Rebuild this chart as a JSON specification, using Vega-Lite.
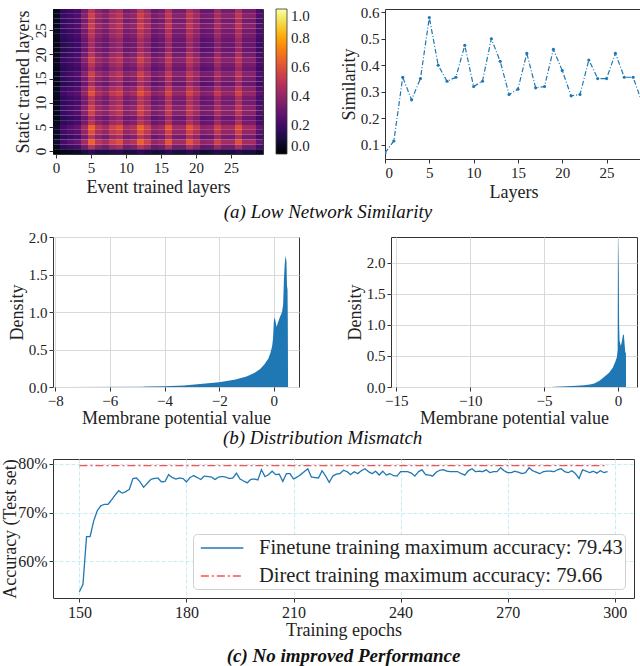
{
"$schema":"https://vega.github.io/schema/vega-lite/v6.json",
"background":"white",
"padding":{"left":1,"top":4,"right":3,"bottom":0},
"config":{
"font":"Liberation Serif",
"view":{"stroke":"#333","strokeWidth":1},
"axis":{"labelFont":"Liberation Serif","titleFont":"Liberation Serif","labelFontSize":15,"titleFontSize":18,"titleFontWeight":"normal","labelColor":"#222","titleColor":"#222","domain":false,"tickColor":"#333","tickSize":4,"grid":false,"labelPadding":2,"titlePadding":3},
"axisY":{"titlePadding":2},
"legend":{"labelFont":"Liberation Serif","labelColor":"#222"},
"title":{"font":"Liberation Serif","fontSize":19,"fontStyle":"italic","fontWeight":"normal","orient":"bottom","anchor":"middle","color":"#111","offset":1}
},
"columns":1,
"align":"none",
"spacing":7,
"resolve":{"scale":{"color":"independent","strokeDash":"independent"},"legend":{"color":"independent","strokeDash":"independent"}},
"concat":[
{"title":{"text":"(a) Low Network Similarity"},"columns":2,"align":"none","spacing":28,
"resolve":{"scale":{"color":"independent"},"legend":{"color":"independent"}},
"concat":[
{"width":210,"height":145,
"data":{"values":[
{"e":0,"s":0,"v":0.02},{"e":1,"s":0,"v":0.05},{"e":2,"s":0,"v":0.06},{"e":3,"s":0,"v":0.07},{"e":4,"s":0,"v":0.11},{"e":5,"s":0,"v":0.16},{"e":6,"s":0,"v":0.12},{"e":7,"s":0,"v":0.11},{"e":8,"s":0,"v":0.13},{"e":9,"s":0,"v":0.14},{"e":10,"s":0,"v":0.11},{"e":11,"s":0,"v":0.11},{"e":12,"s":0,"v":0.16},{"e":13,"s":0,"v":0.13},{"e":14,"s":0,"v":0.1},{"e":15,"s":0,"v":0.11},{"e":16,"s":0,"v":0.15},{"e":17,"s":0,"v":0.11},{"e":18,"s":0,"v":0.11},{"e":19,"s":0,"v":0.15},{"e":20,"s":0,"v":0.12},{"e":21,"s":0,"v":0.09},{"e":22,"s":0,"v":0.1},{"e":23,"s":0,"v":0.13},{"e":24,"s":0,"v":0.11},{"e":25,"s":0,"v":0.11},{"e":26,"s":0,"v":0.14},{"e":27,"s":0,"v":0.11},{"e":28,"s":0,"v":0.11},{"e":29,"s":0,"v":0.07},
{"e":0,"s":1,"v":0.06},{"e":1,"s":1,"v":0.16},{"e":2,"s":1,"v":0.19},{"e":3,"s":1,"v":0.22},{"e":4,"s":1,"v":0.33},{"e":5,"s":1,"v":0.49},{"e":6,"s":1,"v":0.38},{"e":7,"s":1,"v":0.33},{"e":8,"s":1,"v":0.42},{"e":9,"s":1,"v":0.46},{"e":10,"s":1,"v":0.33},{"e":11,"s":1,"v":0.36},{"e":12,"s":1,"v":0.49},{"e":13,"s":1,"v":0.42},{"e":14,"s":1,"v":0.3},{"e":15,"s":1,"v":0.33},{"e":16,"s":1,"v":0.47},{"e":17,"s":1,"v":0.33},{"e":18,"s":1,"v":0.33},{"e":19,"s":1,"v":0.47},{"e":20,"s":1,"v":0.39},{"e":21,"s":1,"v":0.29},{"e":22,"s":1,"v":0.3},{"e":23,"s":1,"v":0.42},{"e":24,"s":1,"v":0.33},{"e":25,"s":1,"v":0.33},{"e":26,"s":1,"v":0.46},{"e":27,"s":1,"v":0.33},{"e":28,"s":1,"v":0.33},{"e":29,"s":1,"v":0.22},
{"e":0,"s":2,"v":0.08},{"e":1,"s":2,"v":0.21},{"e":2,"s":2,"v":0.25},{"e":3,"s":2,"v":0.29},{"e":4,"s":2,"v":0.44},{"e":5,"s":2,"v":0.65},{"e":6,"s":2,"v":0.5},{"e":7,"s":2,"v":0.44},{"e":8,"s":2,"v":0.55},{"e":9,"s":2,"v":0.6},{"e":10,"s":2,"v":0.44},{"e":11,"s":2,"v":0.48},{"e":12,"s":2,"v":0.65},{"e":13,"s":2,"v":0.55},{"e":14,"s":2,"v":0.4},{"e":15,"s":2,"v":0.44},{"e":16,"s":2,"v":0.61},{"e":17,"s":2,"v":0.44},{"e":18,"s":2,"v":0.44},{"e":19,"s":2,"v":0.61},{"e":20,"s":2,"v":0.51},{"e":21,"s":2,"v":0.39},{"e":22,"s":2,"v":0.4},{"e":23,"s":2,"v":0.55},{"e":24,"s":2,"v":0.44},{"e":25,"s":2,"v":0.44},{"e":26,"s":2,"v":0.6},{"e":27,"s":2,"v":0.44},{"e":28,"s":2,"v":0.44},{"e":29,"s":2,"v":0.29},
{"e":0,"s":3,"v":0.06},{"e":1,"s":3,"v":0.16},{"e":2,"s":3,"v":0.19},{"e":3,"s":3,"v":0.22},{"e":4,"s":3,"v":0.33},{"e":5,"s":3,"v":0.49},{"e":6,"s":3,"v":0.38},{"e":7,"s":3,"v":0.33},{"e":8,"s":3,"v":0.42},{"e":9,"s":3,"v":0.46},{"e":10,"s":3,"v":0.33},{"e":11,"s":3,"v":0.36},{"e":12,"s":3,"v":0.49},{"e":13,"s":3,"v":0.42},{"e":14,"s":3,"v":0.3},{"e":15,"s":3,"v":0.33},{"e":16,"s":3,"v":0.47},{"e":17,"s":3,"v":0.33},{"e":18,"s":3,"v":0.33},{"e":19,"s":3,"v":0.47},{"e":20,"s":3,"v":0.39},{"e":21,"s":3,"v":0.29},{"e":22,"s":3,"v":0.3},{"e":23,"s":3,"v":0.42},{"e":24,"s":3,"v":0.33},{"e":25,"s":3,"v":0.33},{"e":26,"s":3,"v":0.46},{"e":27,"s":3,"v":0.33},{"e":28,"s":3,"v":0.33},{"e":29,"s":3,"v":0.22},
{"e":0,"s":4,"v":0.07},{"e":1,"s":4,"v":0.2},{"e":2,"s":4,"v":0.23},{"e":3,"s":4,"v":0.26},{"e":4,"s":4,"v":0.4},{"e":5,"s":4,"v":0.6},{"e":6,"s":4,"v":0.46},{"e":7,"s":4,"v":0.4},{"e":8,"s":4,"v":0.51},{"e":9,"s":4,"v":0.55},{"e":10,"s":4,"v":0.4},{"e":11,"s":4,"v":0.44},{"e":12,"s":4,"v":0.6},{"e":13,"s":4,"v":0.51},{"e":14,"s":4,"v":0.37},{"e":15,"s":4,"v":0.4},{"e":16,"s":4,"v":0.56},{"e":17,"s":4,"v":0.4},{"e":18,"s":4,"v":0.4},{"e":19,"s":4,"v":0.56},{"e":20,"s":4,"v":0.47},{"e":21,"s":4,"v":0.36},{"e":22,"s":4,"v":0.37},{"e":23,"s":4,"v":0.51},{"e":24,"s":4,"v":0.4},{"e":25,"s":4,"v":0.4},{"e":26,"s":4,"v":0.55},{"e":27,"s":4,"v":0.4},{"e":28,"s":4,"v":0.4},{"e":29,"s":4,"v":0.26},
{"e":0,"s":5,"v":0.08},{"e":1,"s":5,"v":0.21},{"e":2,"s":5,"v":0.25},{"e":3,"s":5,"v":0.29},{"e":4,"s":5,"v":0.44},{"e":5,"s":5,"v":0.65},{"e":6,"s":5,"v":0.5},{"e":7,"s":5,"v":0.44},{"e":8,"s":5,"v":0.55},{"e":9,"s":5,"v":0.6},{"e":10,"s":5,"v":0.44},{"e":11,"s":5,"v":0.48},{"e":12,"s":5,"v":0.65},{"e":13,"s":5,"v":0.55},{"e":14,"s":5,"v":0.4},{"e":15,"s":5,"v":0.44},{"e":16,"s":5,"v":0.61},{"e":17,"s":5,"v":0.44},{"e":18,"s":5,"v":0.44},{"e":19,"s":5,"v":0.61},{"e":20,"s":5,"v":0.51},{"e":21,"s":5,"v":0.39},{"e":22,"s":5,"v":0.4},{"e":23,"s":5,"v":0.55},{"e":24,"s":5,"v":0.44},{"e":25,"s":5,"v":0.44},{"e":26,"s":5,"v":0.6},{"e":27,"s":5,"v":0.44},{"e":28,"s":5,"v":0.44},{"e":29,"s":5,"v":0.29},
{"e":0,"s":6,"v":0.06},{"e":1,"s":6,"v":0.16},{"e":2,"s":6,"v":0.19},{"e":3,"s":6,"v":0.22},{"e":4,"s":6,"v":0.33},{"e":5,"s":6,"v":0.49},{"e":6,"s":6,"v":0.38},{"e":7,"s":6,"v":0.33},{"e":8,"s":6,"v":0.42},{"e":9,"s":6,"v":0.46},{"e":10,"s":6,"v":0.33},{"e":11,"s":6,"v":0.36},{"e":12,"s":6,"v":0.49},{"e":13,"s":6,"v":0.42},{"e":14,"s":6,"v":0.3},{"e":15,"s":6,"v":0.33},{"e":16,"s":6,"v":0.47},{"e":17,"s":6,"v":0.33},{"e":18,"s":6,"v":0.33},{"e":19,"s":6,"v":0.47},{"e":20,"s":6,"v":0.39},{"e":21,"s":6,"v":0.29},{"e":22,"s":6,"v":0.3},{"e":23,"s":6,"v":0.42},{"e":24,"s":6,"v":0.33},{"e":25,"s":6,"v":0.33},{"e":26,"s":6,"v":0.46},{"e":27,"s":6,"v":0.33},{"e":28,"s":6,"v":0.33},{"e":29,"s":6,"v":0.22},
{"e":0,"s":7,"v":0.05},{"e":1,"s":7,"v":0.14},{"e":2,"s":7,"v":0.17},{"e":3,"s":7,"v":0.2},{"e":4,"s":7,"v":0.3},{"e":5,"s":7,"v":0.44},{"e":6,"s":7,"v":0.34},{"e":7,"s":7,"v":0.3},{"e":8,"s":7,"v":0.37},{"e":9,"s":7,"v":0.41},{"e":10,"s":7,"v":0.3},{"e":11,"s":7,"v":0.32},{"e":12,"s":7,"v":0.44},{"e":13,"s":7,"v":0.37},{"e":14,"s":7,"v":0.27},{"e":15,"s":7,"v":0.3},{"e":16,"s":7,"v":0.42},{"e":17,"s":7,"v":0.3},{"e":18,"s":7,"v":0.3},{"e":19,"s":7,"v":0.42},{"e":20,"s":7,"v":0.35},{"e":21,"s":7,"v":0.26},{"e":22,"s":7,"v":0.27},{"e":23,"s":7,"v":0.37},{"e":24,"s":7,"v":0.3},{"e":25,"s":7,"v":0.3},{"e":26,"s":7,"v":0.41},{"e":27,"s":7,"v":0.3},{"e":28,"s":7,"v":0.3},{"e":29,"s":7,"v":0.2},
{"e":0,"s":8,"v":0.06},{"e":1,"s":8,"v":0.18},{"e":2,"s":8,"v":0.21},{"e":3,"s":8,"v":0.24},{"e":4,"s":8,"v":0.37},{"e":5,"s":8,"v":0.55},{"e":6,"s":8,"v":0.42},{"e":7,"s":8,"v":0.37},{"e":8,"s":8,"v":0.46},{"e":9,"s":8,"v":0.5},{"e":10,"s":8,"v":0.37},{"e":11,"s":8,"v":0.4},{"e":12,"s":8,"v":0.55},{"e":13,"s":8,"v":0.46},{"e":14,"s":8,"v":0.34},{"e":15,"s":8,"v":0.37},{"e":16,"s":8,"v":0.51},{"e":17,"s":8,"v":0.37},{"e":18,"s":8,"v":0.37},{"e":19,"s":8,"v":0.51},{"e":20,"s":8,"v":0.43},{"e":21,"s":8,"v":0.33},{"e":22,"s":8,"v":0.34},{"e":23,"s":8,"v":0.46},{"e":24,"s":8,"v":0.37},{"e":25,"s":8,"v":0.37},{"e":26,"s":8,"v":0.5},{"e":27,"s":8,"v":0.37},{"e":28,"s":8,"v":0.37},{"e":29,"s":8,"v":0.24},
{"e":0,"s":9,"v":0.06},{"e":1,"s":9,"v":0.18},{"e":2,"s":9,"v":0.21},{"e":3,"s":9,"v":0.24},{"e":4,"s":9,"v":0.37},{"e":5,"s":9,"v":0.55},{"e":6,"s":9,"v":0.42},{"e":7,"s":9,"v":0.37},{"e":8,"s":9,"v":0.46},{"e":9,"s":9,"v":0.5},{"e":10,"s":9,"v":0.37},{"e":11,"s":9,"v":0.4},{"e":12,"s":9,"v":0.55},{"e":13,"s":9,"v":0.46},{"e":14,"s":9,"v":0.34},{"e":15,"s":9,"v":0.37},{"e":16,"s":9,"v":0.51},{"e":17,"s":9,"v":0.37},{"e":18,"s":9,"v":0.37},{"e":19,"s":9,"v":0.51},{"e":20,"s":9,"v":0.43},{"e":21,"s":9,"v":0.33},{"e":22,"s":9,"v":0.34},{"e":23,"s":9,"v":0.46},{"e":24,"s":9,"v":0.37},{"e":25,"s":9,"v":0.37},{"e":26,"s":9,"v":0.5},{"e":27,"s":9,"v":0.37},{"e":28,"s":9,"v":0.37},{"e":29,"s":9,"v":0.24},
{"e":0,"s":10,"v":0.06},{"e":1,"s":10,"v":0.16},{"e":2,"s":10,"v":0.19},{"e":3,"s":10,"v":0.22},{"e":4,"s":10,"v":0.33},{"e":5,"s":10,"v":0.49},{"e":6,"s":10,"v":0.38},{"e":7,"s":10,"v":0.33},{"e":8,"s":10,"v":0.42},{"e":9,"s":10,"v":0.46},{"e":10,"s":10,"v":0.33},{"e":11,"s":10,"v":0.36},{"e":12,"s":10,"v":0.49},{"e":13,"s":10,"v":0.42},{"e":14,"s":10,"v":0.3},{"e":15,"s":10,"v":0.33},{"e":16,"s":10,"v":0.47},{"e":17,"s":10,"v":0.33},{"e":18,"s":10,"v":0.33},{"e":19,"s":10,"v":0.47},{"e":20,"s":10,"v":0.39},{"e":21,"s":10,"v":0.29},{"e":22,"s":10,"v":0.3},{"e":23,"s":10,"v":0.42},{"e":24,"s":10,"v":0.33},{"e":25,"s":10,"v":0.33},{"e":26,"s":10,"v":0.46},{"e":27,"s":10,"v":0.33},{"e":28,"s":10,"v":0.33},{"e":29,"s":10,"v":0.22},
{"e":0,"s":11,"v":0.06},{"e":1,"s":11,"v":0.16},{"e":2,"s":11,"v":0.19},{"e":3,"s":11,"v":0.22},{"e":4,"s":11,"v":0.33},{"e":5,"s":11,"v":0.49},{"e":6,"s":11,"v":0.38},{"e":7,"s":11,"v":0.33},{"e":8,"s":11,"v":0.42},{"e":9,"s":11,"v":0.46},{"e":10,"s":11,"v":0.33},{"e":11,"s":11,"v":0.36},{"e":12,"s":11,"v":0.49},{"e":13,"s":11,"v":0.42},{"e":14,"s":11,"v":0.3},{"e":15,"s":11,"v":0.33},{"e":16,"s":11,"v":0.47},{"e":17,"s":11,"v":0.33},{"e":18,"s":11,"v":0.33},{"e":19,"s":11,"v":0.47},{"e":20,"s":11,"v":0.39},{"e":21,"s":11,"v":0.29},{"e":22,"s":11,"v":0.3},{"e":23,"s":11,"v":0.42},{"e":24,"s":11,"v":0.33},{"e":25,"s":11,"v":0.33},{"e":26,"s":11,"v":0.46},{"e":27,"s":11,"v":0.33},{"e":28,"s":11,"v":0.33},{"e":29,"s":11,"v":0.22},
{"e":0,"s":12,"v":0.07},{"e":1,"s":12,"v":0.2},{"e":2,"s":12,"v":0.23},{"e":3,"s":12,"v":0.26},{"e":4,"s":12,"v":0.4},{"e":5,"s":12,"v":0.6},{"e":6,"s":12,"v":0.46},{"e":7,"s":12,"v":0.4},{"e":8,"s":12,"v":0.51},{"e":9,"s":12,"v":0.55},{"e":10,"s":12,"v":0.4},{"e":11,"s":12,"v":0.44},{"e":12,"s":12,"v":0.6},{"e":13,"s":12,"v":0.51},{"e":14,"s":12,"v":0.37},{"e":15,"s":12,"v":0.4},{"e":16,"s":12,"v":0.56},{"e":17,"s":12,"v":0.4},{"e":18,"s":12,"v":0.4},{"e":19,"s":12,"v":0.56},{"e":20,"s":12,"v":0.47},{"e":21,"s":12,"v":0.36},{"e":22,"s":12,"v":0.37},{"e":23,"s":12,"v":0.51},{"e":24,"s":12,"v":0.4},{"e":25,"s":12,"v":0.4},{"e":26,"s":12,"v":0.55},{"e":27,"s":12,"v":0.4},{"e":28,"s":12,"v":0.4},{"e":29,"s":12,"v":0.26},
{"e":0,"s":13,"v":0.06},{"e":1,"s":13,"v":0.18},{"e":2,"s":13,"v":0.21},{"e":3,"s":13,"v":0.24},{"e":4,"s":13,"v":0.37},{"e":5,"s":13,"v":0.55},{"e":6,"s":13,"v":0.42},{"e":7,"s":13,"v":0.37},{"e":8,"s":13,"v":0.46},{"e":9,"s":13,"v":0.5},{"e":10,"s":13,"v":0.37},{"e":11,"s":13,"v":0.4},{"e":12,"s":13,"v":0.55},{"e":13,"s":13,"v":0.46},{"e":14,"s":13,"v":0.34},{"e":15,"s":13,"v":0.37},{"e":16,"s":13,"v":0.51},{"e":17,"s":13,"v":0.37},{"e":18,"s":13,"v":0.37},{"e":19,"s":13,"v":0.51},{"e":20,"s":13,"v":0.43},{"e":21,"s":13,"v":0.33},{"e":22,"s":13,"v":0.34},{"e":23,"s":13,"v":0.46},{"e":24,"s":13,"v":0.37},{"e":25,"s":13,"v":0.37},{"e":26,"s":13,"v":0.5},{"e":27,"s":13,"v":0.37},{"e":28,"s":13,"v":0.37},{"e":29,"s":13,"v":0.24},
{"e":0,"s":14,"v":0.05},{"e":1,"s":14,"v":0.14},{"e":2,"s":14,"v":0.17},{"e":3,"s":14,"v":0.2},{"e":4,"s":14,"v":0.3},{"e":5,"s":14,"v":0.44},{"e":6,"s":14,"v":0.34},{"e":7,"s":14,"v":0.3},{"e":8,"s":14,"v":0.37},{"e":9,"s":14,"v":0.41},{"e":10,"s":14,"v":0.3},{"e":11,"s":14,"v":0.32},{"e":12,"s":14,"v":0.44},{"e":13,"s":14,"v":0.37},{"e":14,"s":14,"v":0.27},{"e":15,"s":14,"v":0.3},{"e":16,"s":14,"v":0.42},{"e":17,"s":14,"v":0.3},{"e":18,"s":14,"v":0.3},{"e":19,"s":14,"v":0.42},{"e":20,"s":14,"v":0.35},{"e":21,"s":14,"v":0.26},{"e":22,"s":14,"v":0.27},{"e":23,"s":14,"v":0.37},{"e":24,"s":14,"v":0.3},{"e":25,"s":14,"v":0.3},{"e":26,"s":14,"v":0.41},{"e":27,"s":14,"v":0.3},{"e":28,"s":14,"v":0.3},{"e":29,"s":14,"v":0.2},
{"e":0,"s":15,"v":0.06},{"e":1,"s":15,"v":0.16},{"e":2,"s":15,"v":0.19},{"e":3,"s":15,"v":0.22},{"e":4,"s":15,"v":0.33},{"e":5,"s":15,"v":0.49},{"e":6,"s":15,"v":0.38},{"e":7,"s":15,"v":0.33},{"e":8,"s":15,"v":0.42},{"e":9,"s":15,"v":0.46},{"e":10,"s":15,"v":0.33},{"e":11,"s":15,"v":0.36},{"e":12,"s":15,"v":0.49},{"e":13,"s":15,"v":0.42},{"e":14,"s":15,"v":0.3},{"e":15,"s":15,"v":0.33},{"e":16,"s":15,"v":0.47},{"e":17,"s":15,"v":0.33},{"e":18,"s":15,"v":0.33},{"e":19,"s":15,"v":0.47},{"e":20,"s":15,"v":0.39},{"e":21,"s":15,"v":0.29},{"e":22,"s":15,"v":0.3},{"e":23,"s":15,"v":0.42},{"e":24,"s":15,"v":0.33},{"e":25,"s":15,"v":0.33},{"e":26,"s":15,"v":0.46},{"e":27,"s":15,"v":0.33},{"e":28,"s":15,"v":0.33},{"e":29,"s":15,"v":0.22},
{"e":0,"s":16,"v":0.06},{"e":1,"s":16,"v":0.18},{"e":2,"s":16,"v":0.21},{"e":3,"s":16,"v":0.24},{"e":4,"s":16,"v":0.37},{"e":5,"s":16,"v":0.55},{"e":6,"s":16,"v":0.42},{"e":7,"s":16,"v":0.37},{"e":8,"s":16,"v":0.46},{"e":9,"s":16,"v":0.5},{"e":10,"s":16,"v":0.37},{"e":11,"s":16,"v":0.4},{"e":12,"s":16,"v":0.55},{"e":13,"s":16,"v":0.46},{"e":14,"s":16,"v":0.34},{"e":15,"s":16,"v":0.37},{"e":16,"s":16,"v":0.51},{"e":17,"s":16,"v":0.37},{"e":18,"s":16,"v":0.37},{"e":19,"s":16,"v":0.51},{"e":20,"s":16,"v":0.43},{"e":21,"s":16,"v":0.33},{"e":22,"s":16,"v":0.34},{"e":23,"s":16,"v":0.46},{"e":24,"s":16,"v":0.37},{"e":25,"s":16,"v":0.37},{"e":26,"s":16,"v":0.5},{"e":27,"s":16,"v":0.37},{"e":28,"s":16,"v":0.37},{"e":29,"s":16,"v":0.24},
{"e":0,"s":17,"v":0.05},{"e":1,"s":17,"v":0.14},{"e":2,"s":17,"v":0.17},{"e":3,"s":17,"v":0.2},{"e":4,"s":17,"v":0.3},{"e":5,"s":17,"v":0.44},{"e":6,"s":17,"v":0.34},{"e":7,"s":17,"v":0.3},{"e":8,"s":17,"v":0.37},{"e":9,"s":17,"v":0.41},{"e":10,"s":17,"v":0.3},{"e":11,"s":17,"v":0.32},{"e":12,"s":17,"v":0.44},{"e":13,"s":17,"v":0.37},{"e":14,"s":17,"v":0.27},{"e":15,"s":17,"v":0.3},{"e":16,"s":17,"v":0.42},{"e":17,"s":17,"v":0.3},{"e":18,"s":17,"v":0.3},{"e":19,"s":17,"v":0.42},{"e":20,"s":17,"v":0.35},{"e":21,"s":17,"v":0.26},{"e":22,"s":17,"v":0.27},{"e":23,"s":17,"v":0.37},{"e":24,"s":17,"v":0.3},{"e":25,"s":17,"v":0.3},{"e":26,"s":17,"v":0.41},{"e":27,"s":17,"v":0.3},{"e":28,"s":17,"v":0.3},{"e":29,"s":17,"v":0.2},
{"e":0,"s":18,"v":0.06},{"e":1,"s":18,"v":0.16},{"e":2,"s":18,"v":0.19},{"e":3,"s":18,"v":0.22},{"e":4,"s":18,"v":0.33},{"e":5,"s":18,"v":0.49},{"e":6,"s":18,"v":0.38},{"e":7,"s":18,"v":0.33},{"e":8,"s":18,"v":0.42},{"e":9,"s":18,"v":0.46},{"e":10,"s":18,"v":0.33},{"e":11,"s":18,"v":0.36},{"e":12,"s":18,"v":0.49},{"e":13,"s":18,"v":0.42},{"e":14,"s":18,"v":0.3},{"e":15,"s":18,"v":0.33},{"e":16,"s":18,"v":0.47},{"e":17,"s":18,"v":0.33},{"e":18,"s":18,"v":0.33},{"e":19,"s":18,"v":0.47},{"e":20,"s":18,"v":0.39},{"e":21,"s":18,"v":0.29},{"e":22,"s":18,"v":0.3},{"e":23,"s":18,"v":0.42},{"e":24,"s":18,"v":0.33},{"e":25,"s":18,"v":0.33},{"e":26,"s":18,"v":0.46},{"e":27,"s":18,"v":0.33},{"e":28,"s":18,"v":0.33},{"e":29,"s":18,"v":0.22},
{"e":0,"s":19,"v":0.06},{"e":1,"s":19,"v":0.18},{"e":2,"s":19,"v":0.21},{"e":3,"s":19,"v":0.24},{"e":4,"s":19,"v":0.37},{"e":5,"s":19,"v":0.55},{"e":6,"s":19,"v":0.42},{"e":7,"s":19,"v":0.37},{"e":8,"s":19,"v":0.46},{"e":9,"s":19,"v":0.5},{"e":10,"s":19,"v":0.37},{"e":11,"s":19,"v":0.4},{"e":12,"s":19,"v":0.55},{"e":13,"s":19,"v":0.46},{"e":14,"s":19,"v":0.34},{"e":15,"s":19,"v":0.37},{"e":16,"s":19,"v":0.51},{"e":17,"s":19,"v":0.37},{"e":18,"s":19,"v":0.37},{"e":19,"s":19,"v":0.51},{"e":20,"s":19,"v":0.43},{"e":21,"s":19,"v":0.33},{"e":22,"s":19,"v":0.34},{"e":23,"s":19,"v":0.46},{"e":24,"s":19,"v":0.37},{"e":25,"s":19,"v":0.37},{"e":26,"s":19,"v":0.5},{"e":27,"s":19,"v":0.37},{"e":28,"s":19,"v":0.37},{"e":29,"s":19,"v":0.24},
{"e":0,"s":20,"v":0.06},{"e":1,"s":20,"v":0.16},{"e":2,"s":20,"v":0.19},{"e":3,"s":20,"v":0.22},{"e":4,"s":20,"v":0.33},{"e":5,"s":20,"v":0.49},{"e":6,"s":20,"v":0.38},{"e":7,"s":20,"v":0.33},{"e":8,"s":20,"v":0.42},{"e":9,"s":20,"v":0.46},{"e":10,"s":20,"v":0.33},{"e":11,"s":20,"v":0.36},{"e":12,"s":20,"v":0.49},{"e":13,"s":20,"v":0.42},{"e":14,"s":20,"v":0.3},{"e":15,"s":20,"v":0.33},{"e":16,"s":20,"v":0.47},{"e":17,"s":20,"v":0.33},{"e":18,"s":20,"v":0.33},{"e":19,"s":20,"v":0.47},{"e":20,"s":20,"v":0.39},{"e":21,"s":20,"v":0.29},{"e":22,"s":20,"v":0.3},{"e":23,"s":20,"v":0.42},{"e":24,"s":20,"v":0.33},{"e":25,"s":20,"v":0.33},{"e":26,"s":20,"v":0.46},{"e":27,"s":20,"v":0.33},{"e":28,"s":20,"v":0.33},{"e":29,"s":20,"v":0.22},
{"e":0,"s":21,"v":0.05},{"e":1,"s":21,"v":0.14},{"e":2,"s":21,"v":0.17},{"e":3,"s":21,"v":0.2},{"e":4,"s":21,"v":0.3},{"e":5,"s":21,"v":0.44},{"e":6,"s":21,"v":0.34},{"e":7,"s":21,"v":0.3},{"e":8,"s":21,"v":0.37},{"e":9,"s":21,"v":0.41},{"e":10,"s":21,"v":0.3},{"e":11,"s":21,"v":0.32},{"e":12,"s":21,"v":0.44},{"e":13,"s":21,"v":0.37},{"e":14,"s":21,"v":0.27},{"e":15,"s":21,"v":0.3},{"e":16,"s":21,"v":0.42},{"e":17,"s":21,"v":0.3},{"e":18,"s":21,"v":0.3},{"e":19,"s":21,"v":0.42},{"e":20,"s":21,"v":0.35},{"e":21,"s":21,"v":0.26},{"e":22,"s":21,"v":0.27},{"e":23,"s":21,"v":0.37},{"e":24,"s":21,"v":0.3},{"e":25,"s":21,"v":0.3},{"e":26,"s":21,"v":0.41},{"e":27,"s":21,"v":0.3},{"e":28,"s":21,"v":0.3},{"e":29,"s":21,"v":0.2},
{"e":0,"s":22,"v":0.05},{"e":1,"s":22,"v":0.14},{"e":2,"s":22,"v":0.17},{"e":3,"s":22,"v":0.2},{"e":4,"s":22,"v":0.3},{"e":5,"s":22,"v":0.44},{"e":6,"s":22,"v":0.34},{"e":7,"s":22,"v":0.3},{"e":8,"s":22,"v":0.37},{"e":9,"s":22,"v":0.41},{"e":10,"s":22,"v":0.3},{"e":11,"s":22,"v":0.32},{"e":12,"s":22,"v":0.44},{"e":13,"s":22,"v":0.37},{"e":14,"s":22,"v":0.27},{"e":15,"s":22,"v":0.3},{"e":16,"s":22,"v":0.42},{"e":17,"s":22,"v":0.3},{"e":18,"s":22,"v":0.3},{"e":19,"s":22,"v":0.42},{"e":20,"s":22,"v":0.35},{"e":21,"s":22,"v":0.26},{"e":22,"s":22,"v":0.27},{"e":23,"s":22,"v":0.37},{"e":24,"s":22,"v":0.3},{"e":25,"s":22,"v":0.3},{"e":26,"s":22,"v":0.41},{"e":27,"s":22,"v":0.3},{"e":28,"s":22,"v":0.3},{"e":29,"s":22,"v":0.2},
{"e":0,"s":23,"v":0.05},{"e":1,"s":23,"v":0.14},{"e":2,"s":23,"v":0.17},{"e":3,"s":23,"v":0.2},{"e":4,"s":23,"v":0.3},{"e":5,"s":23,"v":0.44},{"e":6,"s":23,"v":0.34},{"e":7,"s":23,"v":0.3},{"e":8,"s":23,"v":0.37},{"e":9,"s":23,"v":0.41},{"e":10,"s":23,"v":0.3},{"e":11,"s":23,"v":0.32},{"e":12,"s":23,"v":0.44},{"e":13,"s":23,"v":0.37},{"e":14,"s":23,"v":0.27},{"e":15,"s":23,"v":0.3},{"e":16,"s":23,"v":0.42},{"e":17,"s":23,"v":0.3},{"e":18,"s":23,"v":0.3},{"e":19,"s":23,"v":0.42},{"e":20,"s":23,"v":0.35},{"e":21,"s":23,"v":0.26},{"e":22,"s":23,"v":0.27},{"e":23,"s":23,"v":0.37},{"e":24,"s":23,"v":0.3},{"e":25,"s":23,"v":0.3},{"e":26,"s":23,"v":0.41},{"e":27,"s":23,"v":0.3},{"e":28,"s":23,"v":0.3},{"e":29,"s":23,"v":0.2},
{"e":0,"s":24,"v":0.06},{"e":1,"s":24,"v":0.16},{"e":2,"s":24,"v":0.19},{"e":3,"s":24,"v":0.22},{"e":4,"s":24,"v":0.33},{"e":5,"s":24,"v":0.49},{"e":6,"s":24,"v":0.38},{"e":7,"s":24,"v":0.33},{"e":8,"s":24,"v":0.42},{"e":9,"s":24,"v":0.46},{"e":10,"s":24,"v":0.33},{"e":11,"s":24,"v":0.36},{"e":12,"s":24,"v":0.49},{"e":13,"s":24,"v":0.42},{"e":14,"s":24,"v":0.3},{"e":15,"s":24,"v":0.33},{"e":16,"s":24,"v":0.47},{"e":17,"s":24,"v":0.33},{"e":18,"s":24,"v":0.33},{"e":19,"s":24,"v":0.47},{"e":20,"s":24,"v":0.39},{"e":21,"s":24,"v":0.29},{"e":22,"s":24,"v":0.3},{"e":23,"s":24,"v":0.42},{"e":24,"s":24,"v":0.33},{"e":25,"s":24,"v":0.33},{"e":26,"s":24,"v":0.46},{"e":27,"s":24,"v":0.33},{"e":28,"s":24,"v":0.33},{"e":29,"s":24,"v":0.22},
{"e":0,"s":25,"v":0.06},{"e":1,"s":25,"v":0.16},{"e":2,"s":25,"v":0.19},{"e":3,"s":25,"v":0.22},{"e":4,"s":25,"v":0.33},{"e":5,"s":25,"v":0.49},{"e":6,"s":25,"v":0.38},{"e":7,"s":25,"v":0.33},{"e":8,"s":25,"v":0.42},{"e":9,"s":25,"v":0.46},{"e":10,"s":25,"v":0.33},{"e":11,"s":25,"v":0.36},{"e":12,"s":25,"v":0.49},{"e":13,"s":25,"v":0.42},{"e":14,"s":25,"v":0.3},{"e":15,"s":25,"v":0.33},{"e":16,"s":25,"v":0.47},{"e":17,"s":25,"v":0.33},{"e":18,"s":25,"v":0.33},{"e":19,"s":25,"v":0.47},{"e":20,"s":25,"v":0.39},{"e":21,"s":25,"v":0.29},{"e":22,"s":25,"v":0.3},{"e":23,"s":25,"v":0.42},{"e":24,"s":25,"v":0.33},{"e":25,"s":25,"v":0.33},{"e":26,"s":25,"v":0.46},{"e":27,"s":25,"v":0.33},{"e":28,"s":25,"v":0.33},{"e":29,"s":25,"v":0.22},
{"e":0,"s":26,"v":0.06},{"e":1,"s":26,"v":0.18},{"e":2,"s":26,"v":0.21},{"e":3,"s":26,"v":0.24},{"e":4,"s":26,"v":0.37},{"e":5,"s":26,"v":0.55},{"e":6,"s":26,"v":0.42},{"e":7,"s":26,"v":0.37},{"e":8,"s":26,"v":0.46},{"e":9,"s":26,"v":0.5},{"e":10,"s":26,"v":0.37},{"e":11,"s":26,"v":0.4},{"e":12,"s":26,"v":0.55},{"e":13,"s":26,"v":0.46},{"e":14,"s":26,"v":0.34},{"e":15,"s":26,"v":0.37},{"e":16,"s":26,"v":0.51},{"e":17,"s":26,"v":0.37},{"e":18,"s":26,"v":0.37},{"e":19,"s":26,"v":0.51},{"e":20,"s":26,"v":0.43},{"e":21,"s":26,"v":0.33},{"e":22,"s":26,"v":0.34},{"e":23,"s":26,"v":0.46},{"e":24,"s":26,"v":0.37},{"e":25,"s":26,"v":0.37},{"e":26,"s":26,"v":0.5},{"e":27,"s":26,"v":0.37},{"e":28,"s":26,"v":0.37},{"e":29,"s":26,"v":0.24},
{"e":0,"s":27,"v":0.06},{"e":1,"s":27,"v":0.16},{"e":2,"s":27,"v":0.19},{"e":3,"s":27,"v":0.22},{"e":4,"s":27,"v":0.33},{"e":5,"s":27,"v":0.49},{"e":6,"s":27,"v":0.38},{"e":7,"s":27,"v":0.33},{"e":8,"s":27,"v":0.42},{"e":9,"s":27,"v":0.46},{"e":10,"s":27,"v":0.33},{"e":11,"s":27,"v":0.36},{"e":12,"s":27,"v":0.49},{"e":13,"s":27,"v":0.42},{"e":14,"s":27,"v":0.3},{"e":15,"s":27,"v":0.33},{"e":16,"s":27,"v":0.47},{"e":17,"s":27,"v":0.33},{"e":18,"s":27,"v":0.33},{"e":19,"s":27,"v":0.47},{"e":20,"s":27,"v":0.39},{"e":21,"s":27,"v":0.29},{"e":22,"s":27,"v":0.3},{"e":23,"s":27,"v":0.42},{"e":24,"s":27,"v":0.33},{"e":25,"s":27,"v":0.33},{"e":26,"s":27,"v":0.46},{"e":27,"s":27,"v":0.33},{"e":28,"s":27,"v":0.33},{"e":29,"s":27,"v":0.22},
{"e":0,"s":28,"v":0.06},{"e":1,"s":28,"v":0.18},{"e":2,"s":28,"v":0.21},{"e":3,"s":28,"v":0.24},{"e":4,"s":28,"v":0.37},{"e":5,"s":28,"v":0.55},{"e":6,"s":28,"v":0.42},{"e":7,"s":28,"v":0.37},{"e":8,"s":28,"v":0.46},{"e":9,"s":28,"v":0.5},{"e":10,"s":28,"v":0.37},{"e":11,"s":28,"v":0.4},{"e":12,"s":28,"v":0.55},{"e":13,"s":28,"v":0.46},{"e":14,"s":28,"v":0.34},{"e":15,"s":28,"v":0.37},{"e":16,"s":28,"v":0.51},{"e":17,"s":28,"v":0.37},{"e":18,"s":28,"v":0.37},{"e":19,"s":28,"v":0.51},{"e":20,"s":28,"v":0.43},{"e":21,"s":28,"v":0.33},{"e":22,"s":28,"v":0.34},{"e":23,"s":28,"v":0.46},{"e":24,"s":28,"v":0.37},{"e":25,"s":28,"v":0.37},{"e":26,"s":28,"v":0.5},{"e":27,"s":28,"v":0.37},{"e":28,"s":28,"v":0.37},{"e":29,"s":28,"v":0.24},
{"e":0,"s":29,"v":0.06},{"e":1,"s":29,"v":0.16},{"e":2,"s":29,"v":0.19},{"e":3,"s":29,"v":0.22},{"e":4,"s":29,"v":0.33},{"e":5,"s":29,"v":0.49},{"e":6,"s":29,"v":0.38},{"e":7,"s":29,"v":0.33},{"e":8,"s":29,"v":0.42},{"e":9,"s":29,"v":0.46},{"e":10,"s":29,"v":0.33},{"e":11,"s":29,"v":0.36},{"e":12,"s":29,"v":0.49},{"e":13,"s":29,"v":0.42},{"e":14,"s":29,"v":0.3},{"e":15,"s":29,"v":0.33},{"e":16,"s":29,"v":0.47},{"e":17,"s":29,"v":0.33},{"e":18,"s":29,"v":0.33},{"e":19,"s":29,"v":0.47},{"e":20,"s":29,"v":0.39},{"e":21,"s":29,"v":0.29},{"e":22,"s":29,"v":0.3},{"e":23,"s":29,"v":0.42},{"e":24,"s":29,"v":0.33},{"e":25,"s":29,"v":0.33},{"e":26,"s":29,"v":0.46},{"e":27,"s":29,"v":0.33},{"e":28,"s":29,"v":0.33},{"e":29,"s":29,"v":0.22}
]},
"mark":{"type":"rect"},
"encoding":{
"x":{"field":"e","type":"ordinal","scale":{"paddingInner":0,"paddingOuter":0},"axis":{"values":[0,5,10,15,20,25],"labelAngle":0,"title":"Event trained layers"}},
"y":{"field":"s","type":"ordinal","sort":"descending","scale":{"paddingInner":0,"paddingOuter":0},"axis":{"values":[0,5,10,15,20,25],"labelAngle":-90,"labelAlign":"center","labelBaseline":"bottom","labelPadding":1,"titlePadding":1,"title":"Static trained layers"}},
"color":{"field":"v","type":"quantitative","scale":{"scheme":"inferno","domain":[0,1]},"legend":{"title":null,"orient":"right","gradientLength":145,"gradientThickness":11,"values":[0,0.2,0.4,0.6,0.8,1],"format":".1f","labelFontSize":15,"offset":13,"gradientStrokeColor":"#333","gradientStrokeWidth":0.8,"labelOffset":4}}
}},
{"width":257,"height":150,
"data":{"values":[
{"l":0,"y":0.07},{"l":1,"y":0.115},{"l":2,"y":0.355},{"l":3,"y":0.27},{"l":4,"y":0.35},{"l":5,"y":0.58},{"l":6,"y":0.4},{"l":7,"y":0.34},{"l":8,"y":0.355},{"l":9,"y":0.475},{"l":10,"y":0.32},{"l":11,"y":0.34},{"l":12,"y":0.5},{"l":13,"y":0.415},{"l":14,"y":0.29},{"l":15,"y":0.31},{"l":16,"y":0.445},{"l":17,"y":0.315},{"l":18,"y":0.32},{"l":19,"y":0.46},{"l":20,"y":0.38},{"l":21,"y":0.285},{"l":22,"y":0.29},{"l":23,"y":0.42},{"l":24,"y":0.35},{"l":25,"y":0.35},{"l":26,"y":0.445},{"l":27,"y":0.355},{"l":28,"y":0.355},{"l":29,"y":0.26}
]},
"encoding":{
"x":{"field":"l","type":"quantitative","scale":{"domain":[0,29],"nice":false},"axis":{"values":[0,5,10,15,20,25],"title":"Layers"}},
"y":{"field":"y","type":"quantitative","scale":{"domain":[0.047,0.612],"nice":false,"zero":false},"axis":{"values":[0.1,0.2,0.3,0.4,0.5,0.6],"format":".1f","title":"Similarity"}}
},
"layer":[
{"mark":{"type":"line","color":"#1f77b4","strokeDash":[5,2,1,2],"strokeWidth":1.2,"clip":true}},
{"mark":{"type":"point","filled":true,"color":"#1f77b4","size":10,"opacity":1,"clip":true}}
]}
]},
{"title":{"text":"(b) Distribution Mismatch"},"columns":2,"align":"none","spacing":45,
"concat":[
{"width":246,"height":150,
"data":{"values":[
{"x":-7.67,"d":0.001},{"x":-4.8,"d":0.002},{"x":-4.7,"d":0.006},{"x":-4.0,"d":0.01},{"x":-3.3,"d":0.02},{"x":-2.6,"d":0.045},{"x":-2.0,"d":0.065},{"x":-1.4,"d":0.1},{"x":-1.0,"d":0.14},{"x":-0.7,"d":0.19},{"x":-0.5,"d":0.24},{"x":-0.35,"d":0.3},{"x":-0.2,"d":0.38},{"x":-0.12,"d":0.46},{"x":-0.06,"d":0.55},{"x":-0.03,"d":0.65},{"x":-0.01,"d":0.8},{"x":0.0,"d":0.88},{"x":0.03,"d":0.93},{"x":0.06,"d":0.88},{"x":0.1,"d":0.8},{"x":0.15,"d":0.86},{"x":0.22,"d":0.93},{"x":0.3,"d":1.0},{"x":0.34,"d":1.1},{"x":0.37,"d":1.45},{"x":0.4,"d":1.65},{"x":0.43,"d":1.75},{"x":0.46,"d":1.68},{"x":0.48,"d":1.35},{"x":0.5,"d":1.3},{"x":0.51,"d":0.9},{"x":0.52,"d":0}
]},
"mark":{"type":"area","color":"#1f77b4","opacity":1},
"encoding":{
"x":{"field":"x","type":"quantitative","scale":{"domain":[-8.08,0.92],"nice":false},"axis":{"values":[-8,-6,-4,-2,0],"grid":true,"gridColor":"#d9d9d9","titlePadding":1,"title":"Membrane potential value"}},
"y":{"field":"d","type":"quantitative","scale":{"domain":[0,2],"nice":false},"axis":{"values":[0,0.5,1,1.5,2],"format":".1f","grid":true,"gridColor":"#d9d9d9","title":"Density"}}
}},
{"width":246,"height":150,
"data":{"values":[
{"x":-14.6,"d":0.001},{"x":-4.5,"d":0.002},{"x":-4.3,"d":0.006},{"x":-3.5,"d":0.012},{"x":-2.8,"d":0.02},{"x":-2.3,"d":0.03},{"x":-1.9,"d":0.04},{"x":-1.6,"d":0.055},{"x":-1.25,"d":0.1},{"x":-0.9,"d":0.17},{"x":-0.6,"d":0.23},{"x":-0.35,"d":0.31},{"x":-0.17,"d":0.41},{"x":-0.07,"d":0.48},{"x":-0.02,"d":0.6},{"x":0.0,"d":2.4},{"x":0.02,"d":2.2},{"x":0.05,"d":1.9},{"x":0.08,"d":1.0},{"x":0.11,"d":0.74},{"x":0.2,"d":0.66},{"x":0.28,"d":0.75},{"x":0.34,"d":0.84},{"x":0.4,"d":0.84},{"x":0.45,"d":0.69},{"x":0.5,"d":0.55},{"x":0.54,"d":0.55},{"x":0.55,"d":0}
]},
"mark":{"type":"area","color":"#1f77b4","opacity":1},
"encoding":{
"x":{"field":"x","type":"quantitative","scale":{"domain":[-15.36,1.29],"nice":false},"axis":{"values":[-15,-10,-5,0],"grid":true,"gridColor":"#d9d9d9","titlePadding":1,"title":"Membrane potential value"}},
"y":{"field":"d","type":"quantitative","scale":{"domain":[0,2.41],"nice":false},"axis":{"values":[0,0.5,1,1.5,2],"format":".1f","grid":true,"gridColor":"#d9d9d9","title":"Density"}}
}}
]},
{"width":581,"height":139,
"title":{"text":"(c) No improved Performance","fontWeight":"bold","offset":8},
"data":{"values":[
{"ep":150,"a":53.8,"k":"F"},{"ep":151,"a":55.3,"k":"F"},{"ep":152,"a":65.1,"k":"F"},{"ep":153,"a":65.1,"k":"F"},{"ep":154,"a":68.3,"k":"F"},{"ep":155,"a":70.4,"k":"F"},{"ep":156,"a":71.4,"k":"F"},{"ep":157,"a":71.7,"k":"F"},{"ep":158,"a":71.7,"k":"F"},{"ep":159,"a":72.6,"k":"F"},{"ep":160,"a":73.6,"k":"F"},{"ep":161,"a":74.5,"k":"F"},{"ep":162,"a":74.0,"k":"F"},{"ep":163,"a":74.3,"k":"F"},{"ep":164,"a":74.8,"k":"F"},{"ep":165,"a":77.0,"k":"F"},{"ep":166,"a":77.1,"k":"F"},{"ep":167,"a":76.3,"k":"F"},{"ep":168,"a":75.2,"k":"F"},{"ep":169,"a":76.0,"k":"F"},{"ep":170,"a":76.8,"k":"F"},{"ep":171,"a":77.0,"k":"F"},{"ep":172,"a":77.1,"k":"F"},{"ep":173,"a":76.3,"k":"F"},{"ep":174,"a":76.4,"k":"F"},{"ep":175,"a":77.8,"k":"F"},{"ep":176,"a":77.2,"k":"F"},{"ep":177,"a":76.9,"k":"F"},{"ep":178,"a":77.1,"k":"F"},{"ep":179,"a":77.0,"k":"F"},{"ep":180,"a":76.3,"k":"F"},{"ep":181,"a":77.2,"k":"F"},{"ep":182,"a":77.6,"k":"F"},{"ep":183,"a":77.2,"k":"F"},{"ep":184,"a":76.8,"k":"F"},{"ep":185,"a":77.5,"k":"F"},{"ep":186,"a":77.4,"k":"F"},{"ep":187,"a":77.3,"k":"F"},{"ep":188,"a":76.8,"k":"F"},{"ep":189,"a":77.3,"k":"F"},{"ep":190,"a":77.4,"k":"F"},{"ep":191,"a":77.3,"k":"F"},{"ep":192,"a":77.0,"k":"F"},{"ep":193,"a":77.1,"k":"F"},{"ep":194,"a":78.1,"k":"F"},{"ep":195,"a":76.9,"k":"F"},{"ep":196,"a":76.5,"k":"F"},{"ep":197,"a":76.1,"k":"F"},{"ep":198,"a":76.8,"k":"F"},{"ep":199,"a":76.9,"k":"F"},{"ep":200,"a":76.7,"k":"F"},{"ep":201,"a":78.8,"k":"F"},{"ep":202,"a":77.4,"k":"F"},{"ep":203,"a":77.8,"k":"F"},{"ep":204,"a":78.5,"k":"F"},{"ep":205,"a":77.8,"k":"F"},{"ep":206,"a":77.9,"k":"F"},{"ep":207,"a":76.4,"k":"F"},{"ep":208,"a":78.0,"k":"F"},{"ep":209,"a":78.0,"k":"F"},{"ep":210,"a":76.9,"k":"F"},{"ep":211,"a":77.3,"k":"F"},{"ep":212,"a":77.8,"k":"F"},{"ep":213,"a":78.4,"k":"F"},{"ep":214,"a":79.0,"k":"F"},{"ep":215,"a":77.3,"k":"F"},{"ep":216,"a":77.2,"k":"F"},{"ep":217,"a":77.1,"k":"F"},{"ep":218,"a":78.6,"k":"F"},{"ep":219,"a":77.5,"k":"F"},{"ep":220,"a":76.2,"k":"F"},{"ep":221,"a":77.5,"k":"F"},{"ep":222,"a":77.9,"k":"F"},{"ep":223,"a":78.0,"k":"F"},{"ep":224,"a":78.7,"k":"F"},{"ep":225,"a":78.4,"k":"F"},{"ep":226,"a":77.8,"k":"F"},{"ep":227,"a":78.4,"k":"F"},{"ep":228,"a":78.0,"k":"F"},{"ep":229,"a":78.6,"k":"F"},{"ep":230,"a":79.0,"k":"F"},{"ep":231,"a":78.4,"k":"F"},{"ep":232,"a":78.0,"k":"F"},{"ep":233,"a":78.5,"k":"F"},{"ep":234,"a":77.7,"k":"F"},{"ep":235,"a":78.5,"k":"F"},{"ep":236,"a":77.7,"k":"F"},{"ep":237,"a":78.0,"k":"F"},{"ep":238,"a":77.6,"k":"F"},{"ep":239,"a":77.5,"k":"F"},{"ep":240,"a":78.4,"k":"F"},{"ep":241,"a":78.4,"k":"F"},{"ep":242,"a":78.4,"k":"F"},{"ep":243,"a":78.1,"k":"F"},{"ep":244,"a":77.5,"k":"F"},{"ep":245,"a":78.4,"k":"F"},{"ep":246,"a":78.8,"k":"F"},{"ep":247,"a":77.8,"k":"F"},{"ep":248,"a":77.7,"k":"F"},{"ep":249,"a":77.5,"k":"F"},{"ep":250,"a":78.3,"k":"F"},{"ep":251,"a":78.7,"k":"F"},{"ep":252,"a":78.8,"k":"F"},{"ep":253,"a":78.5,"k":"F"},{"ep":254,"a":78.4,"k":"F"},{"ep":255,"a":78.4,"k":"F"},{"ep":256,"a":78.4,"k":"F"},{"ep":257,"a":78.0,"k":"F"},{"ep":258,"a":77.7,"k":"F"},{"ep":259,"a":78.6,"k":"F"},{"ep":260,"a":79.0,"k":"F"},{"ep":261,"a":78.4,"k":"F"},{"ep":262,"a":78.5,"k":"F"},{"ep":263,"a":78.4,"k":"F"},{"ep":264,"a":78.8,"k":"F"},{"ep":265,"a":78.2,"k":"F"},{"ep":266,"a":78.4,"k":"F"},{"ep":267,"a":78.4,"k":"F"},{"ep":268,"a":79.2,"k":"F"},{"ep":269,"a":78.6,"k":"F"},{"ep":270,"a":78.2,"k":"F"},{"ep":271,"a":78.2,"k":"F"},{"ep":272,"a":78.5,"k":"F"},{"ep":273,"a":78.3,"k":"F"},{"ep":274,"a":78.0,"k":"F"},{"ep":275,"a":78.2,"k":"F"},{"ep":276,"a":79.2,"k":"F"},{"ep":277,"a":78.6,"k":"F"},{"ep":278,"a":78.3,"k":"F"},{"ep":279,"a":78.0,"k":"F"},{"ep":280,"a":78.4,"k":"F"},{"ep":281,"a":78.5,"k":"F"},{"ep":282,"a":78.5,"k":"F"},{"ep":283,"a":78.4,"k":"F"},{"ep":284,"a":78.8,"k":"F"},{"ep":285,"a":79.0,"k":"F"},{"ep":286,"a":78.4,"k":"F"},{"ep":287,"a":78.2,"k":"F"},{"ep":288,"a":78.6,"k":"F"},{"ep":289,"a":78.0,"k":"F"},{"ep":290,"a":77.0,"k":"F"},{"ep":291,"a":78.8,"k":"F"},{"ep":292,"a":78.5,"k":"F"},{"ep":293,"a":78.2,"k":"F"},{"ep":294,"a":78.5,"k":"F"},{"ep":295,"a":78.1,"k":"F"},{"ep":296,"a":78.6,"k":"F"},{"ep":297,"a":78.2,"k":"F"},{"ep":298,"a":78.4,"k":"F"},
{"ep":150,"a":79.66,"k":"D"},{"ep":298,"a":79.66,"k":"D"}
]},
"mark":{"type":"line","strokeWidth":1.3},
"encoding":{
"x":{"field":"ep","type":"quantitative","scale":{"domain":[142.6,305.4],"nice":false},"axis":{"values":[150,180,210,240,270,300],"labelFontSize":16,"grid":true,"gridColor":"#c4eef3","gridDash":[4,2],"titlePadding":1,"title":"Training epochs"}},
"y":{"field":"a","type":"quantitative","scale":{"domain":[52.5,81],"nice":false,"zero":false},"axis":{"values":[60,70,80],"labelExpr":"datum.value + '%'","labelFontSize":16,"grid":true,"gridColor":"#c4eef3","gridDash":[4,2],"titlePadding":-2,"title":"Accuracy (Test set)"}},
"color":{"field":"k","type":"nominal","scale":{"domain":["F","D"],"range":["#1f77b4","#ff4d4d"]},"legend":{"title":null,"orient":"bottom-right","offset":9,"fillColor":"white","strokeColor":"#d0d0d0","cornerRadius":4,"padding":2,"labelFontSize":20.5,"labelFont":"Liberation Serif","labelColor":"#222","symbolType":"M-0.55,0H3.25","symbolSize":500,"symbolStrokeWidth":1.5,"rowPadding":5,"labelOffset":40,"labelLimit":500,"labelExpr":"datum.label == 'F' ? 'Finetune training maximum accuracy: 79.43' : 'Direct training maximum accuracy: 79.66'"}},
"strokeDash":{"field":"k","type":"nominal","scale":{"domain":["F","D"],"range":[[1,0],[8,3,2,3]]},"legend":null}
}}
]
}
